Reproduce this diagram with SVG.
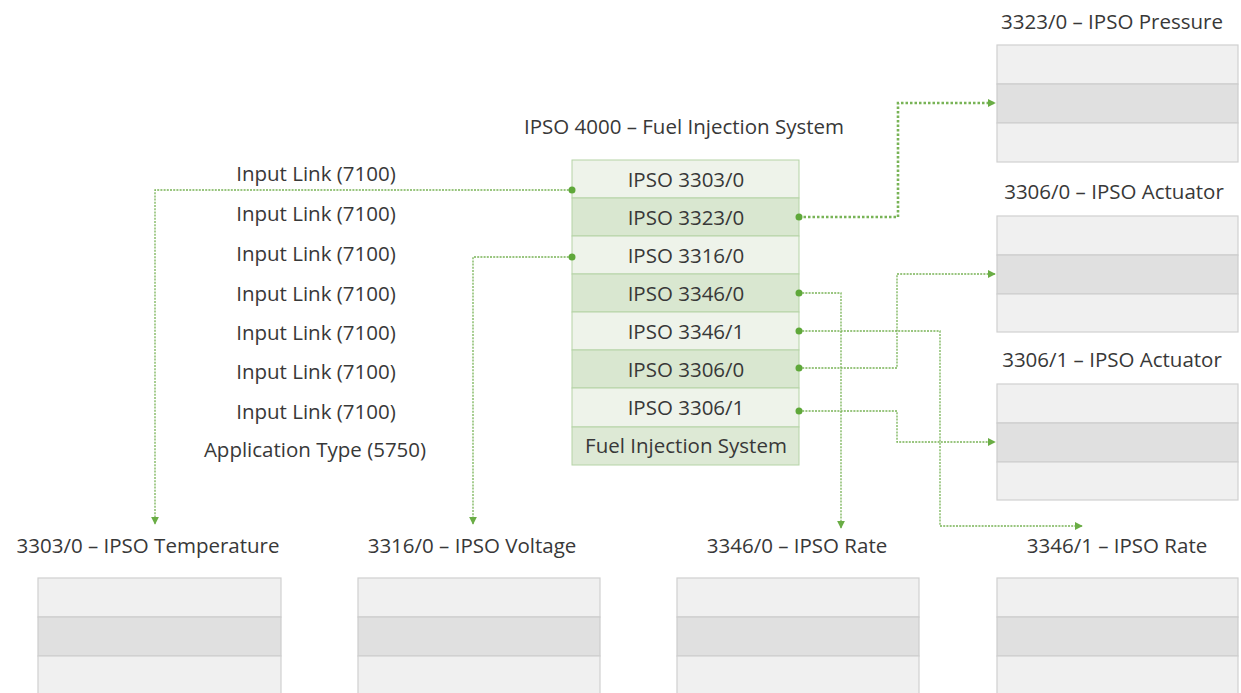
<svg xmlns="http://www.w3.org/2000/svg" width="1241" height="693" viewBox="0 0 1241 693">
<defs>
<style>
text{font-family:"Open Sans","Noto Sans","DejaVu Sans",sans-serif;fill:#383838;font-size:20.5px}
.c{text-anchor:middle}
.rl{fill:#eef3ea;stroke:#b5d3a6;stroke-width:1}
.rd{fill:#d9e7d0;stroke:#b5d3a6;stroke-width:1}
.rf{fill:#dde9d5;stroke:#b5d3a6;stroke-width:1}
.gl{fill:#f0f0f0;stroke:#d0d0d0;stroke-width:1.2}
.gd{fill:#e0e0e0;stroke:#cccccc;stroke-width:1.2}
.ln{fill:none;stroke:#78b356;stroke-width:1.3;stroke-dasharray:2 1.2}
.lt{fill:none;stroke:#78b356;stroke-width:2.6;stroke-dasharray:2.5 2}
.dot{fill:#5fa83a}
</style>
<marker id="ah" viewBox="0 0 10 10" refX="9" refY="5" markerWidth="8" markerHeight="8" markerUnits="userSpaceOnUse" orient="auto">
<path d="M0,0 L10,5 L0,10 z" fill="#6aad45"/>
</marker>
</defs>
<rect width="1241" height="693" fill="#ffffff"/>

<g id="main">
<text class="c" x="684" y="134">IPSO 4000 – Fuel Injection System</text>
<rect class="rl" x="572" y="160" width="227" height="38"/>
<rect class="rd" x="572" y="198" width="227" height="38"/>
<rect class="rl" x="572" y="236" width="227" height="38"/>
<rect class="rd" x="572" y="274" width="227" height="38"/>
<rect class="rl" x="572" y="312" width="227" height="38"/>
<rect class="rd" x="572" y="350" width="227" height="38"/>
<rect class="rl" x="572" y="388" width="227" height="39"/>
<rect class="rf" x="572" y="427" width="227" height="38"/>
<text class="c" x="686" y="187">IPSO 3303/0</text>
<text class="c" x="686" y="225">IPSO 3323/0</text>
<text class="c" x="686" y="263">IPSO 3316/0</text>
<text class="c" x="686" y="301">IPSO 3346/0</text>
<text class="c" x="686" y="339">IPSO 3346/1</text>
<text class="c" x="686" y="377">IPSO 3306/0</text>
<text class="c" x="686" y="415">IPSO 3306/1</text>
<text class="c" x="686" y="453">Fuel Injection System</text>
</g>

<g id="labels">
<text class="c" x="316" y="181">Input Link (7100)</text>
<text class="c" x="316" y="221">Input Link (7100)</text>
<text class="c" x="316" y="261">Input Link (7100)</text>
<text class="c" x="316" y="301">Input Link (7100)</text>
<text class="c" x="316" y="340">Input Link (7100)</text>
<text class="c" x="316" y="379">Input Link (7100)</text>
<text class="c" x="316" y="419">Input Link (7100)</text>
<text class="c" x="315" y="457">Application Type (5750)</text>
</g>

<g id="pressure">
<text class="c" x="1112" y="29">3323/0 – IPSO Pressure</text>
<rect class="gl" x="997" y="45" width="241" height="39"/>
<rect class="gd" x="997" y="84" width="241" height="39"/>
<rect class="gl" x="997" y="123" width="241" height="39"/>
</g>

<g id="actuator0">
<text class="c" x="1114" y="199">3306/0 – IPSO Actuator</text>
<rect class="gl" x="997" y="216" width="241" height="39"/>
<rect class="gd" x="997" y="255" width="241" height="39"/>
<rect class="gl" x="997" y="294" width="241" height="38"/>
</g>

<g id="actuator1">
<text class="c" x="1112" y="367">3306/1 – IPSO Actuator</text>
<rect class="gl" x="997" y="384" width="241" height="39"/>
<rect class="gd" x="997" y="423" width="241" height="39"/>
<rect class="gl" x="997" y="462" width="241" height="38"/>
</g>

<g id="temperature">
<text class="c" x="148" y="553">3303/0 – IPSO Temperature</text>
<rect class="gl" x="38" y="578" width="243" height="39"/>
<rect class="gd" x="38" y="617" width="243" height="39"/>
<rect class="gl" x="38" y="656" width="243" height="39"/>
</g>

<g id="voltage">
<text class="c" x="472" y="553">3316/0 – IPSO Voltage</text>
<rect class="gl" x="358" y="578" width="242" height="39"/>
<rect class="gd" x="358" y="617" width="242" height="39"/>
<rect class="gl" x="358" y="656" width="242" height="39"/>
</g>

<g id="rate0">
<text class="c" x="797" y="553">3346/0 – IPSO Rate</text>
<rect class="gl" x="677" y="578" width="242" height="39"/>
<rect class="gd" x="677" y="617" width="242" height="39"/>
<rect class="gl" x="677" y="656" width="242" height="39"/>
</g>

<g id="rate1">
<text class="c" x="1117" y="553">3346/1 – IPSO Rate</text>
<rect class="gl" x="997" y="578" width="241" height="39"/>
<rect class="gd" x="997" y="617" width="241" height="39"/>
<rect class="gl" x="997" y="656" width="241" height="39"/>
</g>

<g id="connectors">
<path class="ln" d="M572,190 H155 V524" marker-end="url(#ah)"/>
<path class="ln" d="M572,257 H473 V524" marker-end="url(#ah)"/>
<path class="lt" d="M799,217 H898 V103 H995" marker-end="url(#ah)"/>
<path class="ln" d="M799,293 H841 V528" marker-end="url(#ah)"/>
<path class="ln" d="M799,331 H940 V526 H1082" marker-end="url(#ah)"/>
<path class="ln" d="M799,368 H897 V274 H995" marker-end="url(#ah)"/>
<path class="ln" d="M799,411 H897 V442 H995" marker-end="url(#ah)"/>
<circle class="dot" cx="572" cy="190" r="3.5"/>
<circle class="dot" cx="572" cy="257" r="3.5"/>
<circle class="dot" cx="799" cy="217" r="3.5"/>
<circle class="dot" cx="799" cy="293" r="3.5"/>
<circle class="dot" cx="799" cy="331" r="3.5"/>
<circle class="dot" cx="799" cy="368" r="3.5"/>
<circle class="dot" cx="799" cy="411" r="3.5"/>
</g>
</svg>
